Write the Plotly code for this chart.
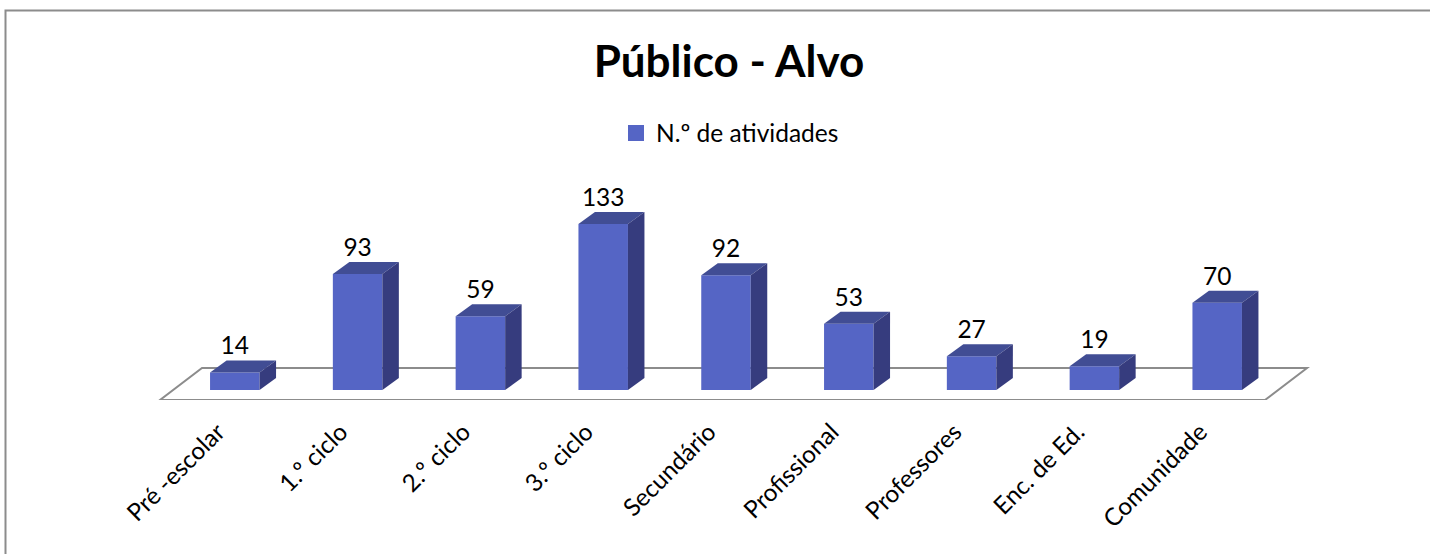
import plotly.graph_objects as go

categories = ["Pré -escolar", "1.º ciclo", "2.º ciclo", "3.º ciclo", "Secundário",
              "Profissional", "Professores", "Enc. de Ed.", "Comunidade"]
values = [14, 93, 59, 133, 92, 53, 27, 19, 70]
series_name = "N.º de atividades"
title_text = "Público - Alvo"

W, H = 1430, 554
M_L, M_R, M_T, M_B = 150, 120, 150, 154
PX_X = 122.8      # px per category
PX_Y = 1.248      # px per value unit
X0 = 234.8        # px of first category centre
Y0 = 390          # px of value zero

FRONT, TOP, SIDE = "#5565C5", "#414D94", "#363C7E"
GREY = "#8C8C8C"
FONT = "Lato, Carlito, Calibri, sans-serif"

bar_w = 49.5 / PX_X
dx = 16.5 / PX_X
dy = 12 / PX_Y
xs = list(range(len(categories)))

x_range = [(M_L - X0) / PX_X, (W - M_R - X0) / PX_X]
y_range = [(Y0 - (H - M_B)) / PX_Y, (Y0 - M_T) / PX_Y]

fig = go.Figure()
fig.add_trace(go.Bar(x=xs, y=values, width=bar_w, name=series_name,
                     marker=dict(color=FRONT, line=dict(width=0)), showlegend=False))
fig.add_trace(go.Scatter(x=[None], y=[None], name=series_name, mode="markers",
                         marker=dict(symbol="square", size=16, color=FRONT, line=dict(width=0)),
                         showlegend=True, hoverinfo="skip"))

for i, v in zip(xs, values):
    l, r = i - bar_w / 2, i + bar_w / 2
    fig.add_trace(go.Scatter(x=[l, r, r + dx, l + dx, l], y=[v, v, v + dy, v + dy, v],
                             mode="lines", fill="toself", fillcolor=TOP,
                             line=dict(width=0, color=TOP), showlegend=False, hoverinfo="skip"))
    fig.add_trace(go.Scatter(x=[r, r + dx, r + dx, r, r], y=[0, dy, v + dy, v, 0],
                             mode="lines", fill="toself", fillcolor=SIDE,
                             line=dict(width=0, color=SIDE), showlegend=False, hoverinfo="skip"))

fig.add_trace(go.Scatter(x=xs, y=[v + dy for v in values], text=[str(v) for v in values],
                         mode="text", textposition="top center",
                         textfont=dict(family=FONT, size=24.5, color="#000000"),
                         showlegend=False, hoverinfo="skip"))


def fx(px):
    return (px - X0) / PX_X


def fy(py):
    return (Y0 - py) / PX_Y


floor_path = "M {} {} L {} {} L {} {} L {} {} Z".format(
    fx(160), fy(400), fx(1265), fy(400), fx(1307), fy(368), fx(202), fy(368))
shapes = [dict(type="path", xref="x", yref="y", path=floor_path, layer="below",
               line=dict(color=GREY, width=2), fillcolor="rgba(0,0,0,0)")]


def px_x(p):
    return (p - M_L) / (W - M_L - M_R)


def px_y(p):
    return (H - M_B - p) / (H - M_T - M_B)


frame = "M {} {} L {} {} L {} {}".format(px_x(5.5), px_y(554), px_x(5.5), px_y(10.5), px_x(1430), px_y(10.5))
shapes.append(dict(type="path", xref="paper", yref="paper", path=frame, layer="below",
                   line=dict(color=GREY, width=2)))

fig.update_layout(
    width=W, height=H, autosize=False,
    margin=dict(l=M_L, r=M_R, t=M_T, b=M_B, pad=0, autoexpand=False),
    paper_bgcolor="#FFFFFF", plot_bgcolor="rgba(0,0,0,0)",
    font=dict(family=FONT, color="#000000"),
    title=dict(text="<b>" + title_text + "</b>", x=729 / W, xref="container", xanchor="center",
               y=1 - 62 / H, yref="container", yanchor="middle",
               font=dict(family=FONT, size=44, color="#000000")),
    legend=dict(xref="container", yref="container", x=730 / W, xanchor="center",
                y=1 - 133 / H, yanchor="middle", orientation="h", itemsizing="trace",
                font=dict(family=FONT, size=24.5, color="#000000"), bgcolor="rgba(0,0,0,0)"),
    xaxis=dict(range=x_range, tickmode="array", tickvals=xs, ticktext=categories,
               tickangle=-45, tickfont=dict(family=FONT, size=24.3, color="#000000"),
               showgrid=False, zeroline=False, showline=False, automargin=False,
               ticks="", ticklabelstandoff=12, ticklabelshift=-17),
    yaxis=dict(range=y_range, visible=False, showgrid=False, zeroline=False, automargin=False),
    shapes=shapes,
)

fig.write_html("out.html", config=dict(displayModeBar=False),
               post_script="document.body.style.margin='0';document.body.style.overflow='hidden';")
